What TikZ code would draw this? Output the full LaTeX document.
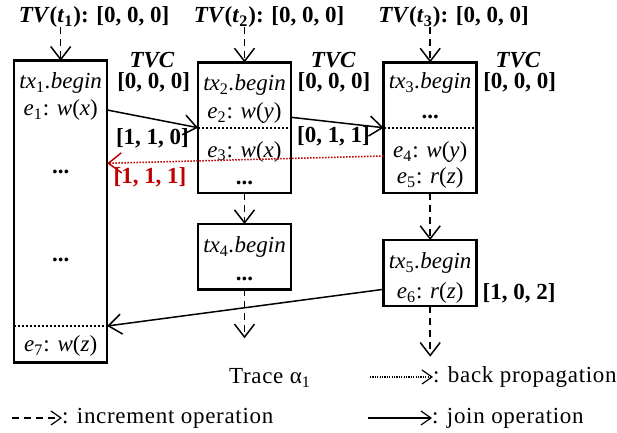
\documentclass[tikz,border=0pt]{standalone}
\usepackage{fontspec}
\setmainfont{Liberation Serif}
\newcommand*{\figfont}{\fontsize{11.5}{13.8}\selectfont}
\newcommand*{\keyfont}{\addfontfeature{LetterSpace=3}}
\newcommand*{\ix}[1]{\textsubscript{\upshape #1}}
\definecolor{BP}{RGB}{192,0,0}
\usepackage{tikz}
\usetikzlibrary{arrows.meta}
\tikzstyle{base}=[x=0.5pt, y=-0.5pt, inner sep=0pt, outer sep=0pt]
\tikzstyle{tbox}=[draw, line width=1.25pt, minimum width=46.5pt]
\tikzstyle{vhead}=[-{Straight Barb[length=6.5pt,width=10pt]}]
\tikzstyle{shead}=[-{Straight Barb[length=5pt,width=7pt]}]
\tikzstyle{incarrow}=[vhead, line width=0.75pt, dash pattern=on 3.5pt off 2.5pt]
\tikzstyle{joinarrow}=[vhead, line width=0.75pt]
\tikzstyle{backarrow}=[vhead, BP, line width=0.75pt, dash pattern=on 0.75pt off 0.75pt]
\tikzstyle{sepline}=[line width=1pt, dash pattern=on 1pt off 1pt]

\begin{document}
\begin{tikzpicture}[base]
    \figfont
        \useasboundingbox (0,0) rectangle (617,433);
        % thread vectors
        \node (tv1) at (94,17) {\textbf{\textit{TV}(\textit{t}\ix{1}): [0, 0, 0]}};
        \node (tv2) at (269,17) {\textbf{\textit{TV}(\textit{t}\ix{2}): [0, 0, 0]}};
        \node (tv3) at (453.5,17) {\textbf{\textit{TV}(\textit{t}\ix{3}): [0, 0, 0]}};
        % transactions
        \node [tbox, minimum height=150.8pt] (t1box) at (60.7,211.5) {};
        \node [tbox, minimum height=65.25pt] (t2box) at (244.5,127.7) {};
        \node [tbox, minimum height=65.25pt] (t3box) at (430.2,127.7) {};
        \node [tbox, minimum height=32.65pt] (t4box) at (244.5,256.7) {};
        \node [tbox, minimum height=33pt] (t5box) at (430.2,273) {};
        \node (tx1) at (60.7,83) {\textit{tx\ix{1}.begin}};
        \node (e1) at (60.7,110) {\textit{e}\ix{1}: \textit{w}(\textit{x})};
        \node (dots1a) at (60.7,172) {\textbf{...}};
        \node (dots1b) at (60.7,260) {\textbf{...}};
        \node (e7) at (60.7,346) {\textit{e}\ix{7}: \textit{w}(\textit{z})};
        \node (tx2) at (244.5,85) {\textit{tx\ix{2}.begin}};
        \node (e2) at (244.5,113) {\textit{e}\ix{2}: \textit{w}(\textit{y})};
        \node (e3) at (244.5,151.7) {\textit{e}\ix{3}: \textit{w}(\textit{x})};
        \node (dots2) at (244.5,182.5) {\textbf{...}};
        \node (tx3) at (430.2,83) {\textit{tx\ix{3}.begin}};
        \node (dots3) at (430.2,116.7) {\textbf{...}};
        \node (e4) at (430.2,152) {\textit{e}\ix{4}: \textit{w}(\textit{y})};
        \node (e5) at (430.2,178) {\textit{e}\ix{5}: \textit{r}(\textit{z})};
        \node (tx4) at (244.5,247.3) {\textit{tx\ix{4}.begin}};
        \node (dots4) at (244.5,279.3) {\textbf{...}};
        \node (tx5) at (430.2,263.3) {\textit{tx\ix{5}.begin}};
        \node (e6) at (430.2,293.3) {\textit{e}\ix{6}: \textit{r}(\textit{z})};
        \coordinate (s1) at (60.7,326);
        \coordinate (s2) at (244.5,127.7);
        \coordinate (s3) at (430.2,127.7);
        \draw [sepline] (s1 -| t1box.west) -- (s1 -| t1box.east);
        \draw [sepline] (s2 -| t2box.west) -- (s2 -| t2box.east);
        \draw [sepline] (s3 -| t3box.west) -- (s3 -| t3box.east);
        % clocks
        \node (tvc1) at (152,60) {\textbf{\textit{TVC}}};
        \node (tvc1v) at (153.7,82) {\textbf{[0, 0, 0]}};
        \node (tvc2) at (333.3,60) {\textbf{\textit{TVC}}};
        \node (tvc2v) at (334,82) {\textbf{[0, 0, 0]}};
        \node (tvc3) at (518,60) {\textbf{\textit{TVC}}};
        \node (tvc3v) at (519.7,82) {\textbf{[0, 0, 0]}};
        \node (v110) at (152.5,138) {\textbf{[1, 1, 0]}};
        \node (v011) at (333.5,136.7) {\textbf{[0, 1, 1]}};
        \node [BP] (v111) at (150,177) {\textbf{[1, 1, 1]}};
        \node (v102) at (519,293) {\textbf{[1, 0, 2]}};
        % increments
        \draw [incarrow] (tv1.south -| t1box.north) -- (t1box.north);
        \draw [incarrow] (tv2.south -| t2box.north) -- (t2box.north);
        \draw [incarrow] (tv3.south -| t3box.north) -- (t3box.north);
        \draw [incarrow] (t2box.south) -- (t4box.north);
        \draw [incarrow] (t3box.south) -- (t5box.north);
        \coordinate (end4) at (244.5,338.3);
        \coordinate (end5) at (430.2,356.7);
        \draw [incarrow] (t4box.south) -- (end4);
        \draw [incarrow] (t5box.south) -- (end5);
        % joins
        \coordinate (j2) at (0,117.3);
        \coordinate (j3) at (0,289.3);
        \coordinate (b1) at (0,156);
        \coordinate (b2) at (0,163.3);
        \draw [joinarrow] (e1 -| t1box.east) -- (s2 -| t2box.west);
        \draw [joinarrow] (j2 -| t2box.east) -- (s3 -| t3box.west);
        \draw [joinarrow] (j3 -| t5box.west) -- (s1 -| t1box.east);
        \draw [backarrow] (b1 -| t3box.west) -- (b2 -| t1box.east);
        % legend
        \node (trace) at (270,378) {\keyfont Trace α\textsubscript{1}};
        \node [anchor=west] (lbp) at (433,377) {\keyfont : back propagation};
        \node [anchor=west] (linc) at (62,418) {\keyfont : increment operation};
        \node [anchor=west] (ljoin) at (432,418) {\keyfont : join operation};
        \coordinate (lb) at (370,377);
        \coordinate (li) at (12,418);
        \coordinate (lj) at (368,418);
        \draw [shead, line width=0.6pt, dash pattern=on 0.6pt off 0.6pt] (lb) -- (lbp.west);
        \draw [shead, line width=0.6pt, dash pattern=on 3.5pt off 2.5pt] (li) -- (linc.west);
        \draw [shead, line width=0.6pt] (lj) -- (ljoin.west);
    \end{tikzpicture}
\end{document}
